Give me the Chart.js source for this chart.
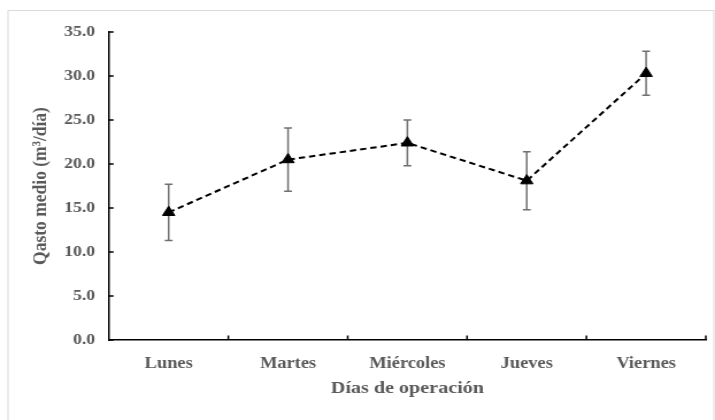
<!DOCTYPE html>
<html>
<head>
<meta charset="utf-8">
<script src="https://cdn.jsdelivr.net/npm/chart.js@4/dist/chart.umd.min.js"></script>
<style>
  html, body { margin: 0; padding: 0; background: #fff; }
  #c { display: block; }
</style>
</head>
<body>
<!-- The drawing surface is rendered slightly narrower and widened by CSS,
     giving the figure its horizontally stretched proportions. -->
<canvas id="c" width="622" height="420" style="width:715px;height:420px"></canvas>
<script>
// Days of operation and mean flow (m³/day) with their standard deviation
const categories = ['Lunes', 'Martes', 'Miércoles', 'Jueves', 'Viernes'];
const meanFlow = [14.5, 20.5, 22.4, 18.1, 30.3];
const stdDev = [3.2, 3.6, 2.6, 3.3, 2.5];
const yTicks = [0, 5, 10, 15, 20, 25, 30, 35];

const textGray = '#595959';
const serif = "'Liberation Serif', 'Times New Roman', serif";

// Light frame around the whole figure
const framePlugin = {
  id: 'frame',
  beforeDraw(chart) {
    const ctx = chart.ctx;
    ctx.save();
    ctx.fillStyle = '#fff';
    ctx.fillRect(0, 0, chart.width, chart.height);
    ctx.strokeStyle = '#d9d9d9';
    ctx.lineWidth = 1;
    ctx.strokeRect(7, 10.5, 614, 430);
    ctx.restore();
  }
};

// Vertical error bars (mean ± standard deviation) with caps
const errorBarPlugin = {
  id: 'errorBars',
  beforeDatasetsDraw(chart) {
    const ctx = chart.ctx;
    const xs = chart.scales.x, ys = chart.scales.y;
    ctx.save();
    ctx.strokeStyle = '#707070';
    ctx.lineWidth = 1.5;
    meanFlow.forEach((m, i) => {
      const x = xs.getPixelForValue(i);
      const yTop = ys.getPixelForValue(m + stdDev[i]);
      const yBot = ys.getPixelForValue(m - stdDev[i]);
      ctx.beginPath();
      ctx.moveTo(x, yTop); ctx.lineTo(x, yBot);
      ctx.moveTo(x - 3.4, yTop); ctx.lineTo(x + 3.4, yTop);
      ctx.moveTo(x - 3.4, yBot); ctx.lineTo(x + 3.4, yBot);
      ctx.stroke();
    });
    ctx.restore();
  }
};

// Short tick marks pointing into the plot area
const innerTicksPlugin = {
  id: 'innerTicks',
  afterDraw(chart) {
    const ctx = chart.ctx;
    const xs = chart.scales.x, ys = chart.scales.y;
    const area = chart.chartArea;
    ctx.save();
    ctx.strokeStyle = '#000';
    ctx.lineWidth = 1.5;
    ctx.beginPath();
    ys.ticks.forEach(t => {
      const y = ys.getPixelForValue(t.value);
      ctx.moveTo(area.left, y); ctx.lineTo(area.left + 4, y);
    });
    for (let i = 0; i < categories.length; i++) {
      const x = i < categories.length - 1
        ? (xs.getPixelForValue(i) + xs.getPixelForValue(i + 1)) / 2
        : area.right;
      ctx.moveTo(x, area.bottom); ctx.lineTo(x, area.bottom - 4.5);
    }
    ctx.stroke();
    ctx.restore();
  }
};

new Chart(document.getElementById('c'), {
  type: 'line',
  data: {
    labels: categories,
    datasets: [{
      data: meanFlow,
      borderColor: '#000',
      borderWidth: 2,
      borderDash: [5.5, 3.5],
      fill: false,
      tension: 0,
      pointStyle: 'triangle',
      pointRadius: 6.2,
      pointBackgroundColor: '#000',
      pointBorderColor: '#000',
      pointBorderWidth: 1
    }]
  },
  options: {
    responsive: false,
    animation: false,
    devicePixelRatio: 1,
    layout: { padding: { left: 8, top: 32, right: 8, bottom: 0 } },
    plugins: { legend: { display: false }, tooltip: { enabled: false } },
    scales: {
      x: {
        offset: true,
        grid: { display: false, drawTicks: false },
        border: { display: true, color: '#000', width: 1.5 },
        ticks: {
          color: textGray,
          padding: 14,
          maxRotation: 0,
          font: { family: serif, size: 16, weight: 'bold' }
        },
        title: {
          display: true,
          text: 'Días de operación',
          color: textGray,
          padding: { top: 4, bottom: 21 },
          font: { family: serif, size: 17.5, weight: 'bold' }
        },
        afterFit(scale) { scale.height = 80; }
      },
      y: {
        min: 0,
        max: 35,
        afterBuildTicks(scale) { scale.ticks = yTicks.map(v => ({ value: v })); },
        grid: { display: false, drawTicks: false },
        border: { display: true, color: '#000', width: 1.5 },
        ticks: {
          color: textGray,
          padding: 12,
          font: { family: serif, size: 15.5, weight: 'bold' },
          callback: v => Number(v).toFixed(1)
        },
        title: {
          display: true,
          text: 'Qasto medio (m³/día)',
          color: textGray,
          padding: { top: 17, bottom: 4 },
          font: { family: serif, size: 17.5, weight: 'bold' }
        },
        afterFit(scale) { scale.width = 86.8; }
      }
    }
  },
  plugins: [framePlugin, errorBarPlugin, innerTicksPlugin]
});
</script>
</body>
</html>
